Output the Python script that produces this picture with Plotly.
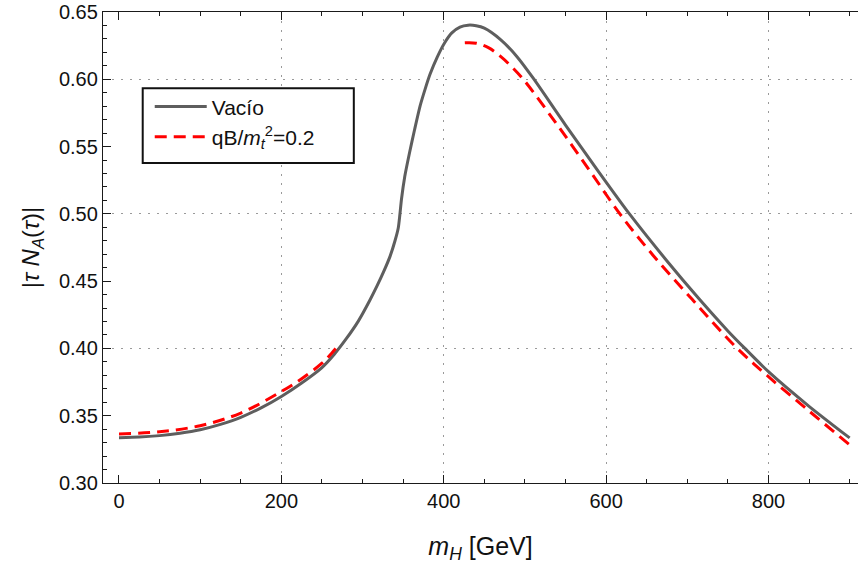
import plotly.graph_objects as go

# Vacuum curve |tau N_A(tau)| vs m_H
vac_x = [0, 25, 50, 75, 100, 125, 150, 175, 200, 225, 250, 265, 280, 295, 309, 318, 326, 334,
         340, 344, 346, 348, 352, 358, 364, 371, 377, 383, 392, 401, 410, 420, 430,
         440, 450, 470, 490, 510, 550, 590, 630, 675, 715, 750, 771, 800, 850, 900]
vac_y = [0.3337, 0.3341, 0.3352, 0.3370, 0.3396, 0.3436, 0.3488, 0.3558, 0.3643, 0.3743,
         0.3858, 0.3955, 0.4072, 0.4205, 0.4358, 0.4466, 0.4570, 0.4686,
         0.4800, 0.4895, 0.4995, 0.5110, 0.5278, 0.5458, 0.5623, 0.5804,
         0.5925, 0.6035, 0.6165, 0.6270, 0.6345, 0.6388, 0.6402,
         0.6398, 0.6380, 0.6295, 0.6170, 0.6010, 0.5660, 0.5320, 0.4990, 0.4650, 0.4365,
         0.4130, 0.4000, 0.3827, 0.3570, 0.3335]

# Magnetic field curve qB/m_t^2 = 0.2 (two branches)
mag_x1 = [0, 50, 100, 150, 200, 225, 250, 262, 272]
mag_y1 = [0.3365, 0.3381, 0.3426, 0.3520, 0.3680, 0.3775, 0.3890, 0.3965, 0.4035]
mag_x2 = [426, 440, 455, 470, 485, 500, 540, 580, 617, 658, 707, 760, 800, 850, 900]
mag_y2 = [0.6271, 0.6268, 0.6235, 0.6170, 0.6085, 0.5985, 0.5660, 0.5320, 0.5000,
          0.4691, 0.4358, 0.4010, 0.3790, 0.3535, 0.3284]

mag_x = mag_x1 + [None] + mag_x2
mag_y = mag_y1 + [None] + mag_y2

x_range = [-19.7, 910.3]
y_range = [0.30, 0.65]
grid_x = [200, 400, 600, 800]
grid_y = [0.40, 0.50, 0.60]

FONT = "Liberation Sans, Arial, sans-serif"

fig = go.Figure()
fig.add_trace(go.Scatter(x=vac_x, y=vac_y, mode="lines", name="Vacío",
                         line=dict(color="#5e5e5e", width=3, shape="spline", smoothing=0.7)))
fig.add_trace(go.Scatter(x=mag_x, y=mag_y, mode="lines",
                         name="qB/<i>m</i><sub><i>t</i></sub><sup>2</sup>=0.2",
                         connectgaps=False,
                         line=dict(color="#ff0000", width=3, dash="12px,7px", shape="spline", smoothing=1.0)))
# carrier for grid overlay axes
fig.add_trace(go.Scatter(x=[None], y=[None], xaxis="x2", yaxis="y2", showlegend=False, hoverinfo="skip"))

axis_common = dict(showline=True, linecolor="#1a1a1a", linewidth=1.3, ticks="inside",
                   tickcolor="#1a1a1a", tickwidth=1, ticklen=8, showgrid=False, zeroline=False,
                   tickfont=dict(family=FONT, size=20, color="#111"))

fig.update_layout(
    width=858, height=573,
    margin=dict(l=103, r=0, t=12, b=90),
    paper_bgcolor="white", plot_bgcolor="white",
    font=dict(family=FONT, color="#111"),
    xaxis=dict(range=x_range, tick0=0, dtick=200, mirror="ticks",
               minor=dict(tick0=0, dtick=50, ticks="inside", ticklen=4, tickcolor="#1a1a1a"),
               title=dict(text="<i>m</i><sub><i>H</i></sub> [GeV]", font=dict(family=FONT, size=25), standoff=26),
               **axis_common),
    yaxis=dict(range=y_range, tick0=0.3, dtick=0.05, tickformat=".2f", mirror=False,
               minor=dict(tick0=0.3, dtick=0.01, ticks="inside", ticklen=4, tickcolor="#1a1a1a"),
               title=dict(text="|<i>τ N</i><sub><i>A</i></sub>(<i>τ</i>)|", font=dict(family=FONT, size=24), standoff=12),
               **axis_common),
    xaxis2=dict(overlaying="x", anchor="y2", range=x_range, tickmode="array", tickvals=grid_x,
                showgrid=True, gridcolor="#9a9a9a", gridwidth=1, griddash="2px,7px",
                showticklabels=False, ticks="", showline=False, zeroline=False),
    yaxis2=dict(overlaying="y", anchor="x2", range=y_range, tickmode="array", tickvals=grid_y,
                showgrid=True, gridcolor="#9a9a9a", gridwidth=1, griddash="2px,7px",
                showticklabels=False, ticks="", showline=False, zeroline=False),
    legend=dict(x=0.0619, y=0.8424, xanchor="left", yanchor="top",
                bgcolor="rgba(0,0,0,0)", borderwidth=0,
                font=dict(family=FONT, size=21, color="#111"), itemwidth=52,
                tracegroupgap=4),
    shapes=[dict(type="rect", xref="paper", yref="paper", x0=0.0526, x1=0.3322, y0=0.6792, y1=0.8382,
                 line=dict(color="#111", width=2), fillcolor="white", layer="above")],
    showlegend=True,
)

fig.write_html("out.html")
